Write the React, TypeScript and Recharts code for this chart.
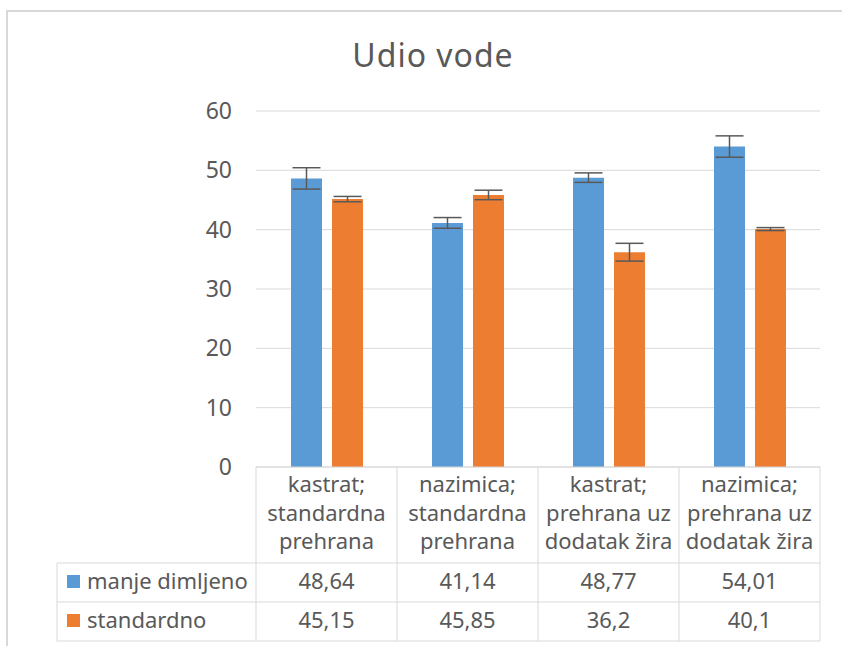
import { BarChart, Bar, XAxis, YAxis, CartesianGrid, ErrorBar } from 'recharts'

const categoryLines = [
  ['kastrat;', 'standardna', 'prehrana'],
  ['nazimica;', 'standardna', 'prehrana'],
  ['kastrat;', 'prehrana uz', 'dodatak žira'],
  ['nazimica;', 'prehrana uz', 'dodatak žira'],
]
const manjeDimljeno = [48.64, 41.14, 48.77, 54.01]
const standardno = [45.15, 45.85, 36.2, 40.1]
// half-length of the error bars
const manjeDimljenoErr = [1.8, 0.9, 0.8, 1.8]
const standardnoErr = [0.45, 0.8, 1.5, 0.25]
const yTicks = [0, 10, 20, 30, 40, 50, 60]

const series = [
  { key: 'manje', name: 'manje dimljeno', color: '#5b9bd5', values: manjeDimljeno, err: manjeDimljenoErr },
  { key: 'std', name: 'standardno', color: '#ed7d31', values: standardno, err: standardnoErr },
]

const data = categoryLines.map((lines, i) => ({
  name: lines.join(' '),
  manje: manjeDimljeno[i],
  manjeErr: manjeDimljenoErr[i],
  std: standardno[i],
  stdErr: standardnoErr[i],
}))

const FONT = "'Noto Sans', 'Open Sans', sans-serif"
const TEXT = '#595959'
const LINE = '#d9d9d9'

const fmt = (v: number) => String(v).replace('.', ',')

// each x tick draws one column of the data table under the plot
function TableTick(props: any) {
  const { x, y, payload, index } = props
  const half = payload?.offset || 70.5
  const left = x - half
  const right = x + half
  const lines = categoryLines[index] ?? []
  const txt = { fill: TEXT, fontSize: 22, fontFamily: FONT }
  return (
    <g>
      <line x1={left} x2={left} y1={y} y2={y + 174} stroke={LINE} />
      {index === categoryLines.length - 1 && (
        <line x1={right} x2={right} y1={y} y2={y + 174} stroke={LINE} />
      )}
      {[96, 135, 174].map((dy) => (
        <line key={dy} x1={left} x2={right} y1={y + dy} y2={y + dy} stroke={LINE} />
      ))}
      {lines.map((l, i) => (
        <text key={i} x={x} y={y + 25 + i * 28.5} textAnchor="middle" {...txt}>
          {l}
        </text>
      ))}
      {series.map((s, r) => (
        <text key={s.key} x={x} y={y + 122 + r * 39} textAnchor="middle" {...txt}>
          {fmt(s.values[index])}
        </text>
      ))}
      {index === 0 && (
        <g>
          <line x1={left - 199} x2={left - 199} y1={y + 96} y2={y + 174} stroke={LINE} />
          {[96, 135, 174].map((dy) => (
            <line key={dy} x1={left - 199} x2={left} y1={y + dy} y2={y + dy} stroke={LINE} />
          ))}
          {series.map((s, r) => (
            <g key={s.key}>
              <rect x={left - 189} y={y + 108 + r * 39} width={13} height={13} fill={s.color} />
              <text x={left - 169} y={y + 122 + r * 39} {...txt}>
                {s.name}
              </text>
            </g>
          ))}
        </g>
      )}
    </g>
  )
}

export default function App() {
  return (
    <div
      style={{
        position: 'absolute',
        left: 0,
        top: 0,
        width: 842,
        height: 646,
        overflow: 'hidden',
        background: '#fff',
        fontFamily: FONT,
      }}
    >
      <div
        style={{
          position: 'absolute',
          left: 6,
          top: 10,
          width: 900,
          height: 700,
          border: `2px solid ${LINE}`,
        }}
      />
      <div
        style={{
          position: 'absolute',
          left: 0,
          top: 39,
          width: 866,
          textAlign: 'center',
          fontSize: 32,
          lineHeight: '32px',
          letterSpacing: 1,
          color: TEXT,
        }}
      >
        Udio vode
      </div>
      <div style={{ position: 'absolute', left: 0, top: 0 }}>
        <BarChart
          width={842}
          height={646}
          data={data}
          margin={{ top: 111, right: 22, bottom: 5, left: 0 }}
          barSize={31}
          barGap={10}
        >
          <CartesianGrid vertical={false} stroke={LINE} />
          <YAxis
            domain={[0, 60]}
            ticks={yTicks}
            width={256}
            axisLine={false}
            tickLine={false}
            tickSize={0}
            tickMargin={24}
            tick={{ fill: TEXT, fontSize: 23, fontFamily: FONT }}
          />
          <XAxis
            dataKey="name"
            height={174}
            interval={0}
            axisLine={{ stroke: LINE }}
            tickLine={false}
            tickSize={0}
            tickMargin={0}
            tick={<TableTick />}
          />
          {series.map((s) => (
            <Bar key={s.key} dataKey={s.key} name={s.name} fill={s.color} isAnimationActive={false}>
              <ErrorBar
                dataKey={s.key + 'Err'}
                direction="y"
                width={14}
                stroke="#595959"
                strokeWidth={1.5}
                isAnimationActive={false}
              />
            </Bar>
          ))}
        </BarChart>
      </div>
    </div>
  )
}
